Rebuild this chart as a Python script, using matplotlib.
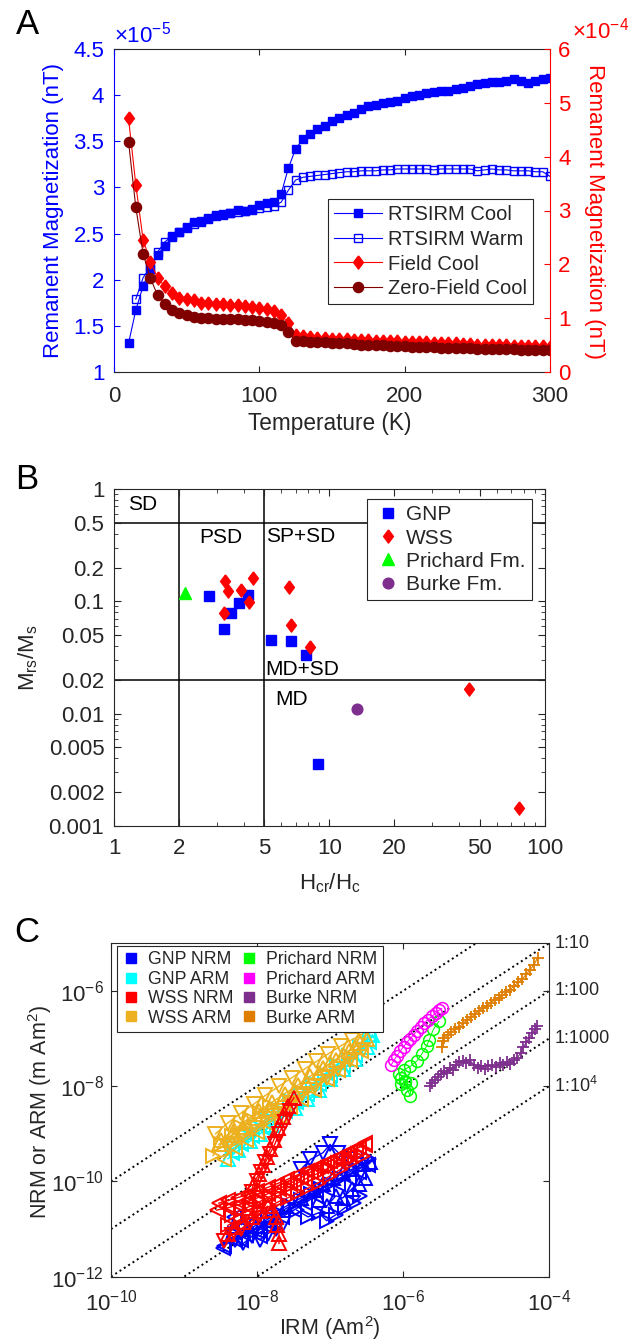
import matplotlib
matplotlib.use('Agg')
import matplotlib.pyplot as plt
from matplotlib import ticker
from matplotlib.lines import Line2D

plt.rcParams['font.family'] = ['Liberation Sans', 'DejaVu Sans']
plt.rcParams['mathtext.fontset'] = 'custom'
plt.rcParams['mathtext.rm'] = 'Liberation Sans'
plt.rcParams['mathtext.it'] = 'Liberation Sans:italic'
plt.rcParams['mathtext.bf'] = 'Liberation Sans:bold'
plt.rcParams['axes.linewidth'] = 0.8

GREY = '#262626'
W, H = 631, 1340

# ---------------- panel A data ----------------
temp = [10, 15, 20, 25, 30, 35, 40, 45, 50, 55, 60, 65, 70, 75, 80, 85, 90, 95, 100, 105,
        110, 115, 120, 125, 130, 135, 140, 145, 150, 155, 160, 165, 170, 175, 180, 185, 190,
        195, 200, 205, 210, 215, 220, 225, 230, 235, 240, 245, 250, 255, 260, 265, 270, 275,
        280, 285, 290, 295, 300]
temp_warm = temp[1:]
# left axis, x 1e-5 nT
rtsirm_cool = [1.31, 1.67, 1.93, 2.12, 2.27, 2.37, 2.46, 2.52, 2.57, 2.62,
               2.64, 2.67, 2.70, 2.71, 2.72, 2.75, 2.74, 2.77, 2.81, 2.83,
               2.84, 2.93, 3.21, 3.42, 3.52, 3.58, 3.63, 3.67, 3.72, 3.75,
               3.79, 3.81, 3.85, 3.88, 3.89, 3.91, 3.93, 3.94, 3.97, 3.99,
               4.00, 4.02, 4.03, 4.04, 4.05, 4.07, 4.08, 4.10, 4.12, 4.13,
               4.14, 4.14, 4.15, 4.17, 4.15, 4.13, 4.15, 4.17, 4.19]
rtsirm_warm = [1.79, 2.02, 2.14, 2.30, 2.41, 2.47, 2.52, 2.56, 2.60, 2.63,
               2.66, 2.69, 2.70, 2.72, 2.73, 2.74, 2.76, 2.78, 2.79, 2.80,
               2.84, 2.97, 3.08, 3.11, 3.12, 3.13, 3.14, 3.15, 3.16, 3.17,
               3.17, 3.18, 3.18, 3.18, 3.19, 3.19, 3.20, 3.20, 3.20, 3.20,
               3.20, 3.19, 3.20, 3.20, 3.20, 3.20, 3.20, 3.18, 3.19, 3.20,
               3.19, 3.19, 3.18, 3.18, 3.18, 3.17, 3.17, 3.12]
# right axis, x 1e-4 nT
field_cool = [4.71, 3.48, 2.46, 2.05, 1.75, 1.59, 1.46, 1.38, 1.35, 1.33,
              1.29, 1.28, 1.27, 1.26, 1.24, 1.24, 1.23, 1.21, 1.19, 1.17,
              1.13, 1.06, 0.91, 0.69,
              0.66, 0.65, 0.64, 0.63, 0.62, 0.61, 0.61, 0.60, 0.59, 0.59,
              0.58, 0.58, 0.57, 0.57, 0.56, 0.56, 0.55, 0.55, 0.54, 0.54,
              0.53, 0.53, 0.52, 0.52, 0.51, 0.51, 0.50, 0.50, 0.50, 0.49,
              0.49, 0.48, 0.48, 0.48, 0.47]
zero_field_cool = [4.28, 3.06, 2.20, 1.74, 1.43, 1.26, 1.15, 1.09, 1.05, 1.02,
                   1.01, 1.00, 0.99, 0.99, 0.99, 0.98, 0.97, 0.96, 0.95, 0.93,
                   0.91, 0.87, 0.74, 0.58,
                   0.57, 0.56, 0.55, 0.55, 0.54, 0.53, 0.53, 0.52, 0.51, 0.51,
                   0.50, 0.50, 0.49, 0.48, 0.48, 0.47, 0.47, 0.46, 0.46, 0.45,
                   0.45, 0.45, 0.44, 0.44, 0.43, 0.43, 0.43, 0.42, 0.42, 0.42,
                   0.41, 0.41, 0.40, 0.40, 0.40]

# ---------------- panel B data (Day plot) ----------------
gnp_hratio = [2.76, 3.25, 3.50, 3.80, 4.21, 5.38, 6.65, 7.77, 8.88]
gnp_mratio = [0.112, 0.057, 0.079, 0.096, 0.113, 0.045, 0.044, 0.033, 0.0036]
wss_hratio = [3.28, 3.39, 3.89, 4.41, 3.25, 4.26, 6.48, 6.65, 8.15, 44.8, 75.9]
wss_mratio = [0.152, 0.124, 0.126, 0.160, 0.079, 0.099, 0.135, 0.062, 0.0395, 0.0165, 0.00144]
prichard_hratio = [2.13]
prichard_mratio = [0.119]
burke_hratio = [13.5]
burke_mratio = [0.0111]
day_h_bounds = [2, 5]
day_m_bounds = [0.5, 0.02]
day_regions = ['SD', 'PSD', 'SP+SD', 'MD+SD', 'MD']
day_region_h = [1.36, 3.12, 7.35, 7.5, 6.65]
day_region_m = [0.73, 0.37, 0.375, 0.0248, 0.0135]

# ---------------- panel C data (NRM/ARM vs IRM) ----------------
gnp_nrm_x = [[3.5e-9, 5e-9, 7e-9, 1e-8, 1.5e-8, 2.2e-8, 3.2e-8, 4.5e-8, 6.5e-8, 9e-8, 1.3e-7, 1.8e-7, 2.5e-7, 3.3e-7],
             [3.5e-8, 5e-8, 7e-8, 9e-8, 1.2e-7, 1.6e-7, 2.1e-7, 2.6e-7],
             [1.5e-8, 2.5e-8, 4e-8, 6e-8, 8e-8, 1.1e-7, 1.5e-7, 2e-7, 2.8e-7, 3.5e-7],
             [4e-8, 5.4e-8, 8e-8, 1e-7, 1.3e-7, 1.8e-7],
             [3.4e-9, 4.8e-9, 6e-9, 8e-9, 1.1e-8, 1.4e-8],
             [5e-9, 7e-9, 1e-8, 1.4e-8, 2e-8, 2.8e-8, 4e-8, 5.5e-8, 7.5e-8, 1e-7, 1.4e-7, 2e-7, 2.8e-7, 3.4e-7],
             [7e-8, 9e-8, 1.2e-7, 1.5e-7, 2e-7, 2.5e-7, 3e-7],
             [5e-9, 6.5e-9, 8.5e-9, 1.1e-8, 1.4e-8, 1.8e-8, 2.3e-8]]
gnp_nrm_y = [[4.5e-12, 6e-12, 7.5e-12, 9e-12, 1.3e-11, 1.8e-11, 2.5e-11, 3.5e-11, 5e-11, 7e-11, 9e-11, 1.2e-10, 1.6e-10, 2.2e-10],
             [2.5e-11, 1.8e-11, 2.2e-11, 1.5e-11, 2e-11, 2.8e-11, 3.5e-11, 5e-11],
             [2e-11, 3e-11, 4.5e-11, 6.5e-11, 9e-11, 1.2e-10, 1.5e-10, 1.8e-10, 2.3e-10, 2.6e-10],
             [1.8e-10, 2.9e-10, 4e-10, 6e-10, 4e-10, 3e-10],
             [4e-12, 1.8e-11, 6e-12, 1e-11, 7e-12, 1.1e-11],
             [8e-12, 1e-11, 1.2e-11, 1.6e-11, 2.2e-11, 3e-11, 4e-11, 5.5e-11, 7e-11, 9e-11, 1.2e-10, 1.7e-10, 2.4e-10, 3e-10],
             [4e-11, 3e-11, 5e-11, 4.5e-11, 7e-11, 9e-11, 1.2e-10],
             [6e-12, 5e-12, 7e-12, 6e-12, 8e-12, 1e-11, 1.3e-11]]
gnp_arm_x = [[4.5e-9, 6e-9, 8.5e-9, 1.2e-8, 1.7e-8, 2.4e-8, 3.4e-8, 4.8e-8, 7e-8, 1e-7, 1.5e-7, 2.2e-7, 3.4e-7],
             [5e-9, 7e-9, 1e-8, 1.4e-8, 2e-8, 2.8e-8, 4e-8, 5.8e-8, 8.5e-8, 1.25e-7, 1.8e-7, 2.6e-7, 3.5e-7],
             [4e-9, 5.5e-9, 8e-9, 1.1e-8, 1.6e-8, 2.3e-8, 3.3e-8, 4.8e-8, 7e-8, 1e-7, 1.5e-7, 2.2e-7, 3.2e-7, 3.8e-7]]
gnp_arm_y = [[4e-10, 6e-10, 9e-10, 1.35e-9, 2e-9, 3e-9, 4.6e-9, 7e-9, 1.1e-8, 1.7e-8, 2.8e-8, 4.5e-8, 8.5e-8],
             [6e-10, 9e-10, 1.4e-9, 2.1e-9, 3.2e-9, 5e-9, 7.5e-9, 1.15e-8, 1.8e-8, 2.8e-8, 4.4e-8, 6.8e-8, 1e-7],
             [3e-10, 4.5e-10, 7e-10, 1e-9, 1.5e-9, 2.3e-9, 3.5e-9, 5.5e-9, 8.5e-9, 1.4e-8, 2.3e-8, 3.8e-8, 6.5e-8, 1.2e-7]]
wss_nrm_x = [[8e-9, 9e-9, 1.05e-8, 1.2e-8, 1.35e-8, 1.5e-8, 1.7e-8, 1.95e-8, 2.3e-8, 2.7e-8, 3.2e-8],
             [8.5e-9, 1e-8, 1.15e-8, 1.3e-8, 1.5e-8, 1.75e-8, 2e-8, 2.4e-8, 2.8e-8],
             [2.8e-9, 4e-9, 5.5e-9, 7.5e-9, 1e-8, 1.4e-8, 2e-8, 2.8e-8, 4e-8, 5.5e-8, 7.5e-8, 1e-7, 1.4e-7, 1.9e-7, 2.5e-7, 3e-7],
             [4e-9, 6e-9, 8e-9, 1.1e-8, 1.5e-8, 2e-8, 2.7e-8, 3.6e-8, 5e-8, 7e-8, 1e-7, 1.4e-7, 2e-7, 2.8e-7],
             [1.6e-8, 1.8e-8, 1.9e-8, 2e-8, 2e-8],
             [3.5e-9, 4.5e-9, 6e-9, 8e-9, 1.1e-8],
             [3e-9, 4e-9, 5.5e-9, 7.5e-9, 1e-8, 1.4e-8, 1.9e-8, 2.6e-8, 3.5e-8, 4.8e-8, 6.5e-8, 9e-8, 1.2e-7, 1.7e-7, 2.3e-7, 3e-7],
             [4.5e-9, 6e-9, 8e-9, 1.1e-8, 1.5e-8, 2e-8, 2.7e-8, 3.7e-8, 5e-8, 7e-8, 9.5e-8, 1.3e-7, 1.8e-7, 2.4e-7],
             [4e-9, 5e-9, 6.5e-9, 8.5e-9, 1.1e-8, 1.4e-8]]
wss_nrm_y = [[5e-11, 9e-11, 1.4e-10, 2.2e-10, 3.3e-10, 4.7e-10, 7.5e-10, 1.3e-9, 2.3e-9, 3.8e-9, 5.7e-9],
             [6e-11, 1e-10, 1.6e-10, 2.5e-10, 3.8e-10, 6e-10, 1e-9, 1.8e-9, 3e-9],
             [2.5e-11, 2.8e-11, 3.2e-11, 3.8e-11, 4.5e-11, 5.5e-11, 7e-11, 9e-11, 1.2e-10, 1.6e-10, 2.1e-10, 2.7e-10, 3.5e-10, 4.3e-10, 5.2e-10, 5.8e-10],
             [1.2e-11, 1.6e-11, 2e-11, 2.5e-11, 3e-11, 3.8e-11, 4.6e-11, 5.8e-11, 7.2e-11, 9.5e-11, 1.3e-10, 1.8e-10, 2.5e-10, 3.5e-10],
             [2.5e-11, 1.8e-11, 1.2e-11, 8e-12, 5e-12],
             [5.5e-12, 7.5e-12, 1e-11, 1.4e-11, 2e-11],
             [3.5e-11, 4e-11, 4.6e-11, 5.3e-11, 6.2e-11, 7.5e-11, 9e-11, 1.1e-10, 1.35e-10, 1.65e-10, 2e-10, 2.5e-10, 3.1e-10, 3.9e-10, 4.8e-10, 6.5e-10],
             [2e-11, 2.5e-11, 3e-11, 3.8e-11, 4.8e-11, 6e-11, 7.5e-11, 9.5e-11, 1.2e-10, 1.5e-10, 1.9e-10, 2.4e-10, 3e-10, 3.8e-10],
             [8e-12, 1.1e-11, 1.4e-11, 1.8e-11, 2.4e-11, 3e-11]]
wss_arm_x = [[3e-9, 4.5e-9, 6.5e-9, 1e-8, 1.5e-8, 2.2e-8, 3.2e-8, 4.7e-8, 7e-8, 1e-7, 1.5e-7, 2.2e-7, 3.2e-7],
             [2.7e-9, 4e-9, 6e-9, 9e-9, 1.3e-8, 2e-8, 3e-8, 4.5e-8, 6.5e-8, 9.5e-8, 1.4e-7, 2e-7, 2.8e-7],
             [3.5e-9, 5e-9, 7e-9, 1e-8, 1.4e-8, 2e-8, 2.8e-8, 4e-8, 6e-8, 9e-8, 1.3e-7, 1.9e-7, 2.7e-7],
             [2.5e-9, 3.2e-9, 4.5e-9, 6e-9, 8e-9, 1.1e-8, 1.5e-8],
             [3.2e-9, 4.8e-9, 7e-9, 1.05e-8, 1.6e-8, 2.4e-8, 3.6e-8, 5.3e-8, 8e-8, 1.2e-7, 1.8e-7, 2.6e-7],
             [4e-9, 6e-9, 9e-9, 1.3e-8, 1.9e-8, 2.8e-8, 4.2e-8, 6.2e-8, 9e-8, 1.3e-7, 1.9e-7, 2.8e-7]]
wss_arm_y = [[6e-10, 9.5e-10, 1.4e-9, 2.2e-9, 3.4e-9, 5.2e-9, 8e-9, 1.2e-8, 1.9e-8, 3e-8, 4.6e-8, 6.8e-8, 1e-7],
             [1e-9, 1.7e-9, 2.7e-9, 4.2e-9, 6.4e-9, 1e-8, 1.5e-8, 2.3e-8, 3.3e-8, 4.8e-8, 7e-8, 9.5e-8, 1.25e-7],
             [3e-10, 5e-10, 7.5e-10, 1.1e-9, 1.6e-9, 2.4e-9, 3.6e-9, 5.5e-9, 8.5e-9, 1.4e-8, 2.2e-8, 3.5e-8, 5.5e-8],
             [3.5e-10, 6e-10, 9e-10, 1.4e-9, 2e-9, 2.8e-9, 3.8e-9],
             [7.5e-10, 1.2e-9, 1.9e-9, 3e-9, 4.6e-9, 7e-9, 1.05e-8, 1.6e-8, 2.4e-8, 3.6e-8, 5.5e-8, 8e-8],
             [5.5e-10, 8.5e-10, 1.3e-9, 2e-9, 3e-9, 4.5e-9, 6.8e-9, 1e-8, 1.5e-8, 2.3e-8, 3.6e-8, 5.8e-8]]
prichard_nrm_x = [3.1e-6, 2.6e-6, 2.3e-6, 2.1e-6, 1.8e-6, 1.55e-6, 1.26e-6, 1.02e-6, 8.8e-7, 9.5e-7,
                  1.07e-6, 1.3e-6, 1.25e-6, 1.15e-6, 1.05e-6, 9.5e-7]
prichard_nrm_y = [2.3e-7, 1.55e-7, 9.5e-8, 6.9e-8, 4.7e-8, 3.4e-8, 2.6e-8, 2.2e-8, 1.8e-8, 1.1e-8,
                  1.3e-8, 1.15e-8, 6.3e-9, 8.5e-9, 1.2e-8, 1.5e-8]
prichard_arm_x = [6.9e-7, 7.5e-7, 8.3e-7, 9.2e-7, 1.02e-6, 1.13e-6, 1.25e-6, 1.4e-6, 1.55e-6, 1.75e-6,
                  1.95e-6, 2.2e-6, 2.5e-6, 2.8e-6, 3.1e-6, 3.4e-6]
prichard_arm_y = [2.8e-8, 3.5e-8, 4.4e-8, 5.5e-8, 6.8e-8, 8.3e-8, 1e-7, 1.2e-7, 1.45e-7, 1.75e-7,
                  2.1e-7, 2.5e-7, 2.95e-7, 3.4e-7, 3.9e-7, 4.3e-7]
burke_nrm_x = [2.35e-6, 2.5e-6, 2.75e-6, 3e-6, 3.3e-6, 3.65e-6, 4e-6, 4.35e-6, 4.8e-6, 5.25e-6,
               5.9e-6, 6.6e-6, 7.4e-6, 8.3e-6, 9.3e-6, 1.05e-5, 1.17e-5, 1.32e-5, 1.48e-5, 1.66e-5,
               1.86e-5, 2.1e-5, 2.35e-5, 2.63e-5, 2.95e-5, 3.3e-5, 3.7e-5, 4.1e-5, 4.45e-5, 4.9e-5,
               5.4e-5, 5.9e-5, 6.45e-5, 6.9e-5]
burke_nrm_y = [1e-8, 1.17e-8, 1.35e-8, 1.58e-8, 1.82e-8, 2.04e-8, 1.9e-8, 2.4e-8, 2.2e-8, 2.8e-8,
               3.16e-8, 3.4e-8, 3e-8, 3.5e-8, 2.8e-8, 2.4e-8, 2.7e-8, 2.3e-8, 2.6e-8, 2.8e-8,
               2.5e-8, 3e-8, 2.8e-8, 3.2e-8, 2.95e-8, 3.6e-8, 4e-8, 5e-8, 6.6e-8, 8.3e-8,
               1.05e-7, 1.3e-7, 1.6e-7, 1.8e-7]
burke_arm_x = [3.4e-6, 3.5e-6, 3.7e-6, 4.1e-6, 4.6e-6, 5.2e-6, 5.9e-6, 6.7e-6, 7.6e-6, 8.6e-6,
               9.7e-6, 1.1e-5, 1.25e-5, 1.4e-5, 1.6e-5, 1.8e-5, 2.05e-5, 2.3e-5, 2.6e-5, 2.95e-5,
               3.35e-5, 3.8e-5, 4.3e-5, 4.9e-5, 5.5e-5, 6.2e-5, 7e-5]
burke_arm_y = [6.8e-8, 8.9e-8, 1.05e-7, 1.17e-7, 1.35e-7, 1.58e-7, 1.78e-7, 2.1e-7, 2.45e-7, 2.8e-7,
               3.3e-7, 3.8e-7, 4.4e-7, 4.9e-7, 5.6e-7, 6.5e-7, 7.2e-7, 8.1e-7, 9.3e-7, 1.07e-6,
               1.29e-6, 1.51e-6, 1.78e-6, 2.24e-6, 2.8e-6, 3.5e-6, 5e-6]
ratio_lines = [1, 1e-1, 1e-2, 1e-3, 1e-4]
ratio_labels = ['1:10', '1:100', '1:1000', '1:10$^4$']
legend_c_labels = ['GNP NRM', 'GNP ARM', 'WSS NRM', 'WSS ARM',
                   'Prichard NRM', 'Prichard ARM', 'Burke NRM', 'Burke ARM']


def fx(x):
    return x / W


def fy(y):
    return 1 - y / H


diamond = [(0, 1), (0.75, 0), (0, -1), (-0.75, 0), (0, 1)]

fig = plt.figure(figsize=(W / 100, H / 100), dpi=100)

# ================= A =================
axA = fig.add_axes([fx(114), fy(372), fx(436), 323 / H])
axA2 = axA.twinx()
hc, = axA.plot(temp, rtsirm_cool, '-s', color='b', ms=6, lw=0.8, label='RTSIRM Cool')
hw, = axA.plot(temp_warm, rtsirm_warm, '-s', color='b', mfc='none', mew=1, ms=6, lw=0.8,
               label='RTSIRM Warm')
hf, = axA2.plot(temp, field_cool, '-', marker=diamond, color='r', ms=9.5, lw=0.8,
                label='Field Cool')
hz, = axA2.plot(temp, zero_field_cool, '-o', color='#800000', ms=7.3, lw=0.8,
                label='Zero-Field Cool')
axA.set_xlim(0, 300)
axA.set_ylim(1, 4.5)
axA2.set_ylim(0, 6)
axA.set_xticks([0, 100, 200, 300])
axA.set_yticks([1, 1.5, 2, 2.5, 3, 3.5, 4, 4.5])
axA2.set_yticks([0, 1, 2, 3, 4, 5, 6])
axA.yaxis.set_major_formatter(ticker.FormatStrFormatter('%g'))
axA.tick_params(axis='x', direction='in', top=True, length=4, colors=GREY, labelsize=16, pad=10)
axA.tick_params(axis='y', direction='in', length=4, colors='b', labelsize=16, pad=7)
axA2.tick_params(axis='y', direction='in', length=4, colors='r', labelsize=16, pad=6)
axA.spines['left'].set_color('b')
axA.spines['right'].set_visible(False)
axA.spines['top'].set_color(GREY)
axA.spines['bottom'].set_color(GREY)
axA2.spines['right'].set_color('r')
for s in ['left', 'top', 'bottom']:
    axA2.spines[s].set_visible(False)
legA = axA2.legend(handles=[hc, hw, hf, hz], loc='upper right', bbox_to_anchor=(0.961, 0.535),
                   borderaxespad=0, fontsize=14.5, handlelength=2.4, handletextpad=0.3,
                   labelspacing=0.28, borderpad=0.3, fancybox=False, framealpha=1)
legA.get_frame().set_edgecolor(GREY)
legA.get_frame().set_linewidth(0.8)
for t in legA.get_texts():
    t.set_color(GREY)
fig.text(fx(54), fy(211), 'Remanent Magnetization (nT)', rotation=90, ha='center', va='center',
         color='b', fontsize=16)
fig.text(fx(595), fy(211), 'Remanent Magnetization (nT)', rotation=270, ha='center', va='center',
         color='r', fontsize=16)
fig.text(fx(330), fy(424), 'Temperature (K)', ha='center', va='center', color=GREY, fontsize=16.3)
fig.text(fx(114), fy(43), '\u00d710$^{-5}$', ha='left', va='baseline', color='b', fontsize=16)
fig.text(fx(572), fy(39), '\u00d710$^{-4}$', ha='left', va='baseline', color='r', fontsize=16)
fig.text(fx(27), fy(24), 'A', ha='center', va='center', fontsize=25, color='k')

# ================= B =================
axB = fig.add_axes([fx(114), fy(826), fx(430.5), 337 / H])
axB.set_xscale('log')
axB.set_yscale('log')
for h in day_h_bounds:
    axB.axvline(h, color='k', lw=1.1, zorder=1)
for m in day_m_bounds:
    axB.axhline(m, color='k', lw=1.1, zorder=1)
for lab, h, m in zip(day_regions, day_region_h, day_region_m):
    axB.text(h, m, lab, ha='center', va='center', fontsize=15, color='k')
axB.plot(gnp_hratio, gnp_mratio, 's', color='b', ms=6.5, ls='none', label='GNP', zorder=3)
axB.plot(wss_hratio, wss_mratio, ls='none', marker=diamond, color='r', ms=9.5, label='WSS', zorder=3)
axB.plot(prichard_hratio, prichard_mratio, '^', color='#00ff00', ms=9, ls='none',
         label='Prichard Fm.', zorder=3)
axB.plot(burke_hratio, burke_mratio, 'o', color='#7e2f8e', ms=7.7, ls='none', label='Burke Fm.',
         zorder=3)
axB.set_xlim(1, 100)
axB.set_ylim(0.001, 1)
axB.set_xticks([1, 2, 5, 10, 20, 50, 100])
axB.set_yticks([0.001, 0.002, 0.005, 0.01, 0.02, 0.05, 0.1, 0.2, 0.5, 1])
axB.xaxis.set_major_formatter(ticker.FormatStrFormatter('%g'))
axB.yaxis.set_major_formatter(ticker.FormatStrFormatter('%g'))
axB.xaxis.set_minor_locator(ticker.LogLocator(base=10, subs=[3, 4, 6, 7, 8, 9]))
axB.yaxis.set_minor_locator(ticker.LogLocator(base=10, subs=[3, 4, 6, 7, 8, 9]))
axB.xaxis.set_minor_formatter(ticker.NullFormatter())
axB.yaxis.set_minor_formatter(ticker.NullFormatter())
axB.tick_params(which='both', direction='in', top=True, right=True, colors=GREY, labelsize=16)
axB.tick_params(which='major', length=5, width=0.8)
axB.tick_params(which='minor', length=3, width=0.6)
axB.tick_params(axis='x', pad=8.5)
axB.tick_params(axis='y', pad=7)
for s in axB.spines.values():
    s.set_color(GREY)
legB = axB.legend(loc='upper right', bbox_to_anchor=(0.971, 0.970), borderaxespad=0,
                  fontsize=15, handlelength=1.38, handletextpad=0.2, labelspacing=0.2,
                  borderpad=0.3, fancybox=False, framealpha=1)
legB.get_frame().set_edgecolor(GREY)
legB.get_frame().set_linewidth(0.8)
for t in legB.get_texts():
    t.set_color(GREY)
fig.text(fx(330), fy(889), 'H$_{\\mathregular{cr}}$/H$_{\\mathregular{c}}$', ha='center',
         va='baseline', fontsize=16, color=GREY)
fig.text(fx(34), fy(658), 'M$_{\\mathregular{rs}}$/M$_{\\mathregular{s}}$', rotation=90,
         rotation_mode='anchor', ha='center', va='baseline', fontsize=16, color=GREY)
fig.text(fx(27), fy(480), 'B', ha='center', va='center', fontsize=25, color='k')

# ================= C =================
axC = fig.add_axes([fx(111), fy(1276.7), fx(438), 333.4 / H])
axC.set_xscale('log')
axC.set_yscale('log')
axC.set_xlim(1e-10, 1e-4)
axC.set_ylim(1e-12, 1e-5)
xl = axC.get_xlim()
for r in ratio_lines:
    axC.plot([xl[0], xl[1]], [r * xl[0], r * xl[1]], ':', color='k', lw=1.4, zorder=1)

tri = ['<', '>', '^', 'v']
tri_style = dict(mfc='none', ms=9.5, mew=1.4, lw=1.0)
for i, (xs, ys) in enumerate(zip(gnp_arm_x, gnp_arm_y)):
    axC.plot(xs, ys, '-', marker=tri[i % 4], color='#00ffff', **tri_style)
for i, (xs, ys) in enumerate(zip(wss_arm_x, wss_arm_y)):
    axC.plot(xs, ys, '-', marker=tri[(i + 2) % 4], color='#edb120', **tri_style)
for i, (xs, ys) in enumerate(zip(gnp_nrm_x, gnp_nrm_y)):
    axC.plot(xs, ys, '-', marker=tri[i % 4], color='b', **tri_style)
for i, (xs, ys) in enumerate(zip(wss_nrm_x, wss_nrm_y)):
    axC.plot(xs, ys, '-', marker=tri[(i + 2) % 4], color='r', **tri_style)
axC.plot(prichard_nrm_x, prichard_nrm_y, '-o', color='#00ff00', mfc='none', ms=8.5, mew=1.1, lw=0.7)
axC.plot(prichard_arm_x, prichard_arm_y, '-o', color='#ff00ff', mfc='none', ms=8.5, mew=1.1, lw=0.7)
axC.plot(burke_nrm_x, burke_nrm_y, '-+', color='#7e2f8e', ms=9, mew=1.3, lw=0.8)
axC.plot(burke_arm_x, burke_arm_y, '-+', color='#de7d00', ms=9, mew=1.3, lw=0.8)

for r, lab in zip(ratio_lines[1:], ratio_labels):
    axC.text(1.012, r * xl[1], lab, transform=axC.get_yaxis_transform(), ha='left',
             va='center', fontsize=13, color=GREY)

axC.set_xticks([1e-10, 1e-8, 1e-6, 1e-4])
axC.set_yticks([1e-12, 1e-10, 1e-8, 1e-6])
axC.xaxis.set_minor_locator(ticker.NullLocator())
axC.yaxis.set_minor_locator(ticker.NullLocator())
axC.tick_params(direction='in', top=True, right=True, length=4, width=0.8, colors=GREY,
                labelsize=16)
axC.tick_params(axis='x', pad=9.5)
axC.tick_params(axis='y', pad=5)
for s in axC.spines.values():
    s.set_color(GREY)

c_colors = ['b', '#00ffff', 'r', '#edb120', '#00ff00', '#ff00ff', '#7e2f8e', '#de7d00']
handles = [Line2D([], [], ls='none', marker='s', ms=7, color=c) for c in c_colors]
legC = axC.legend(handles, legend_c_labels, ncol=2, loc='upper left',
                  bbox_to_anchor=(0.013, 0.992), borderaxespad=0, fontsize=12.7,
                  handlelength=1.0, handletextpad=0.46, labelspacing=0.14, borderpad=0.3,
                  columnspacing=0.4, fancybox=False, framealpha=1)
legC.get_frame().set_edgecolor(GREY)
legC.get_frame().set_linewidth(0.8)
for t in legC.get_texts():
    t.set_color(GREY)

fig.text(fx(330), fy(1335), 'IRM (Am$^2$)', ha='center', va='baseline', fontsize=15.5, color=GREY)
fig.text(fx(47), fy(1112), 'NRM or ARM (m Am$^2$)', rotation=90, rotation_mode='anchor',
         ha='center', va='baseline', fontsize=15.5, color=GREY)
fig.text(fx(27), fy(932), 'C', ha='center', va='center', fontsize=25, color='k')

fig.savefig('out.png', dpi=100)
